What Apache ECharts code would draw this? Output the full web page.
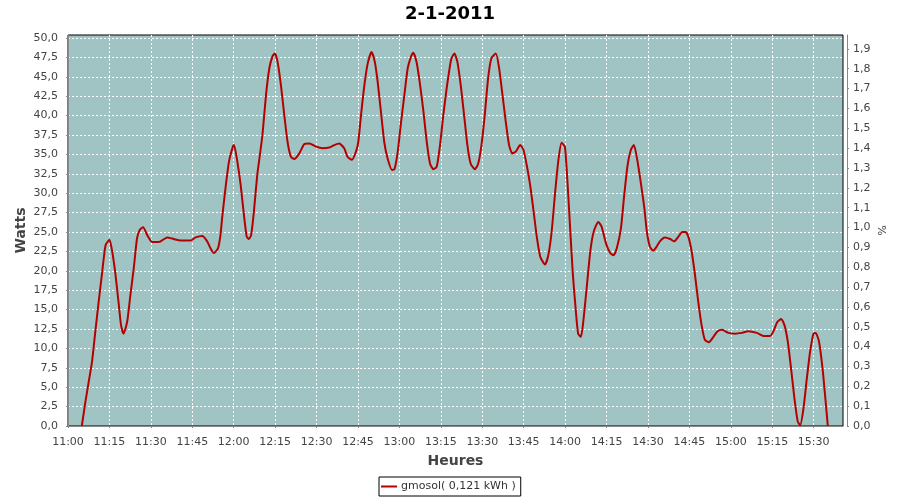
<!DOCTYPE html>
<html>
<head>
<meta charset="utf-8">
<script src="https://cdn.jsdelivr.net/npm/echarts@6/dist/echarts.min.js"></script>
<style>html,body{margin:0;padding:0;background:#fff}#c{width:900px;height:500px}</style>
</head>
<body>
<div id="c"></div>
<script>
// minutes after 11:00
var minutes = [5.0,6.3,7.5,8.7,9.9,11.1,12.4,13.6,15,16,17.2,18.4,19.2,20.1,21.4,22.6,23.8,25,26,27.2,28.7,30.5,32.9,35.9,38.3,40.7,44.4,46.2,48.6,50.4,51.6,52.8,54.3,55.2,55.8,57,58.3,59.7,60.1,61.3,62.5,63.7,64.7,65.5,66.3,67.3,68.5,69.5,70.4,71.7,72.9,74.1,74.9,75.9,77.1,78.3,79.5,80.7,81.9,83.7,85.5,87.4,89.8,92.2,94.6,96.4,98.2,100,101.2,102.8,104.3,105.1,106.1,107.3,108.5,109.9,111.1,112.1,113.3,114.5,115.7,117.3,118.2,119.4,120.6,121.8,123,124.2,125,126.2,127.5,128.7,129.9,131.1,132.3,133.5,134.7,135.9,137.1,138.7,139.9,141,142.2,143.4,144.6,145.8,147.3,148.5,149.7,150.9,152.1,153.3,154.9,156.1,157.3,158.5,159.7,160.9,162.2,163.7,164.9,166.1,167.3,168.6,169.8,171,172.7,173.9,175.1,176.3,177.5,178.7,179.9,180.9,181.8,182.8,183.9,184.7,185.7,186.7,187.9,189.1,190.3,192,193.2,194.8,196.3,197.5,198.7,200.2,201.4,202.6,203.8,204.9,206.2,207.7,208.7,209.6,210.7,211.9,213.1,214.3,216.1,218,219.5,221,222.4,223.6,224.6,225.8,227,228.2,229.4,230.6,232.1,233.7,235.2,236.9,239.1,241.5,243.9,246.3,249.4,251.8,254.2,255.4,256.8,258.2,259.4,260.6,261.8,263,264.2,265.1,266.3,267.5,268.7,269.9,270.7,271.9,273.2,274.1,275.1];
var watts = [0,3.1,5.7,8.3,12.2,16,19.9,23.3,24.0,22.5,19.5,15.6,13,11.9,13.4,16.9,20.3,24.2,25.3,25.6,24.6,23.7,23.7,24.3,24.1,23.9,23.9,24.3,24.5,23.8,22.9,22.3,22.9,24.6,26.8,30.6,34.1,36.0,36.2,34.1,31.1,27.2,24.4,24.1,24.6,27.6,32.3,35,37.5,42.7,46.1,47.7,48.0,46.9,43.9,40.1,36.6,34.7,34.4,35.1,36.3,36.4,36.0,35.8,35.9,36.2,36.4,35.8,34.7,34.3,35.4,36.6,40.1,43.9,46.7,48.2,46.9,44.4,40.5,36.6,34.5,33.0,33.1,35.4,39.2,42.7,46.1,47.6,48.1,46.9,43.9,40.5,36.6,33.8,33.1,33.4,36.2,40.1,43.5,47.2,48.0,46.9,43.9,40.1,36.2,33.8,33.1,33.8,36.2,40.1,44.8,47.4,48.0,46.1,42.7,39.2,36.2,35.1,35.4,36.2,35.6,33.6,31.1,27.6,24.2,21.8,20.8,22.0,25.0,29.8,34.1,36.5,36.0,31.1,25.5,19.5,14.7,11.9,11.5,13.9,18.2,22.5,25,26.3,25.7,23.5,22.3,22.0,22.9,25.5,29.8,33.6,35.6,36.2,34.1,30.6,28,25,23.1,22.6,23.1,23.8,24.3,24.1,23.8,24.4,25.0,25.0,24.4,22.5,19.5,16.0,13.0,11.1,10.8,11.5,12.2,12.4,12.0,11.9,12.0,12.2,12.0,11.6,11.6,12.2,13.4,13.8,13.0,10.9,7.4,3.6,0.6,0.1,2.3,6.1,9.6,11.9,12.0,10.9,7.4,4.0,0];
var seriesName = 'gmosol( 0,121 kWh )';
var titleText = '2-1-2011';
var startHour = 11;

var pts = minutes.map(function (m, i) { return [m, watts[i]]; });
function fmtTime(v) {
  var t = Math.round(v);
  var h = startHour + Math.floor(t / 60), mm = t % 60;
  return h + ':' + (mm < 10 ? '0' : '') + mm;
}
function fmtComma(d) { return function (v) { return v.toFixed(d).replace('.', ','); }; }
var FF = 'DejaVu Sans';
var chart = echarts.init(document.getElementById('c'), null, {renderer: 'canvas'});
chart.setOption({
  animation: false,
  backgroundColor: '#ffffff',
  title: {text: titleText, left: 'center', top: 5, padding: 0,
    textStyle: {fontFamily: FF, fontSize: 18, fontWeight: 'bold', color: '#000'}},
  legend: {data: [seriesName], left: 379, top: 477, padding: [4, 5, 4, 2],
    borderColor: '#000', borderWidth: 1, borderRadius: 0,
    icon: 'rect', itemWidth: 16, itemHeight: 2, itemGap: 4,
    textStyle: {fontFamily: FF, fontSize: 11, color: '#333', padding: [0,0,0,-1]}},
  grid: {left: 68, right: 57, top: 35, bottom: 74, show: true,
    backgroundColor: '#a0c4c4', borderColor: '#000', borderWidth: 1},
  xAxis: {type: 'value', min: 0, max: 280.6, interval: 15, offset: 4,
    name: 'Heures', nameLocation: 'middle', nameGap: 24, nameMoveOverlap: false,
    nameTextStyle: {fontFamily: FF, fontSize: 14, fontWeight: 'bold', color: '#444'},
    axisLine: {show: true, lineStyle: {color: '#888', width: 1}},
    axisTick: {show: true, length: 2, lineStyle: {color: '#888'}},
    axisLabel: {formatter: fmtTime, showMaxLabel: false, margin: 7,
      fontFamily: FF, fontSize: 11, color: '#444'},
    splitLine: {show: true, showMinLine: false, showMaxLine: false,
      lineStyle: {color: '#fff', width: 1, type: [2, 2]}}},
  yAxis: [
    {type: 'value', min: 0, max: 50.39, interval: 2.5, offset: 4, position: 'left',
      name: 'Watts', nameLocation: 'middle', nameGap: 36, nameRotate: 90, nameMoveOverlap: false,
      nameTextStyle: {fontFamily: FF, fontSize: 14, fontWeight: 'bold', color: '#444'},
      axisLine: {show: true, lineStyle: {color: '#888', width: 1}},
      axisTick: {show: true, length: 2, lineStyle: {color: '#888'}},
      axisLabel: {formatter: fmtComma(1), showMaxLabel: false, margin: 6,
        fontFamily: FF, fontSize: 11, color: '#444'},
      splitLine: {show: true, showMinLine: false, showMaxLine: false,
        lineStyle: {color: '#fff', width: 1, type: [2, 2]}}},
    {type: 'value', min: 0, max: 1.97, interval: 0.1, offset: 4, position: 'right',
      name: '%', nameLocation: 'middle', nameGap: 28, nameRotate: -90, nameMoveOverlap: false,
      nameTextStyle: {fontFamily: FF, fontSize: 11, color: '#444'},
      axisLine: {show: true, lineStyle: {color: '#888', width: 1}},
      axisTick: {show: true, length: 2, lineStyle: {color: '#888'}},
      axisLabel: {formatter: fmtComma(1), showMaxLabel: false, margin: 6,
        fontFamily: FF, fontSize: 11, color: '#444'},
      splitLine: {show: false}}
  ],
  series: [{name: seriesName, type: 'line', data: pts, yAxisIndex: 0,
    showSymbol: false, symbol: 'none', smooth: 0.2,
    lineStyle: {color: '#b40000', width: 2}, itemStyle: {color: '#b40000'}}]
});
</script>
</body>
</html>
